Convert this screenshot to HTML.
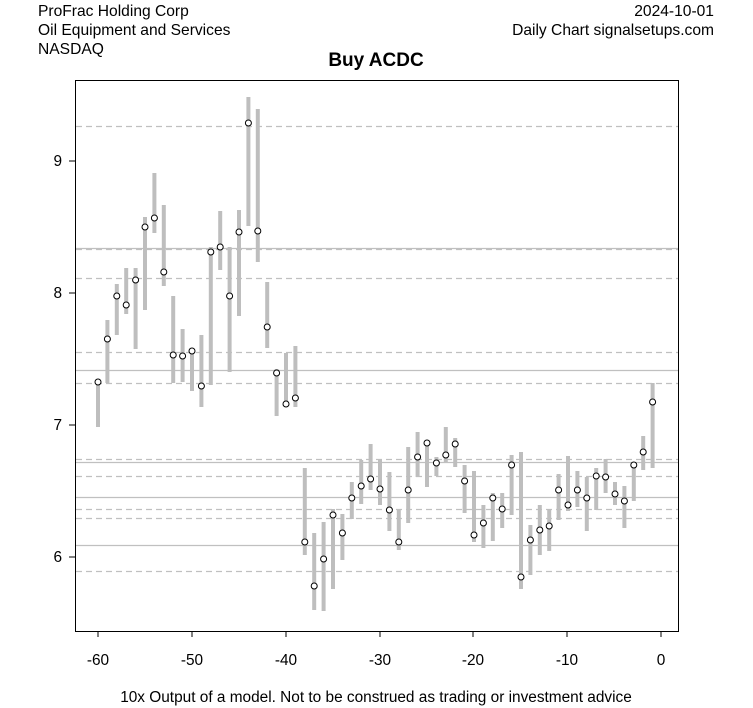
<!DOCTYPE html>
<html><head><meta charset="utf-8"><style>body{margin:0;background:#fff}svg{display:block}</style></head><body>
<svg width="753" height="708" xmlns="http://www.w3.org/2000/svg" font-family="Liberation Sans, Arial, sans-serif">
<rect width="753" height="708" fill="#fff"/>
<text x="38" y="16" font-size="15.6">ProFrac Holding Corp</text>
<text x="38" y="35" font-size="15.6">Oil Equipment and Services</text>
<text x="38" y="54" font-size="15.6">NASDAQ</text>
<text x="714" y="16" font-size="15.6" text-anchor="end">2024-10-01</text>
<text x="714" y="35" font-size="15.6" text-anchor="end">Daily Chart signalsetups.com</text>
<text x="376" y="66" font-size="19" font-weight="bold" text-anchor="middle">Buy ACDC</text>
<text x="376" y="702" font-size="15.4" text-anchor="middle">10x Output of a model. Not to be construed as trading or investment advice</text>
<g stroke="#c0c0c0" stroke-width="1.2" stroke-dasharray="6,4">
<line x1="76" x2="678" y1="126.5" y2="126.5"/><line x1="76" x2="678" y1="249.5" y2="249.5"/><line x1="76" x2="678" y1="278.5" y2="278.5"/><line x1="76" x2="678" y1="352.5" y2="352.5"/><line x1="76" x2="678" y1="383.5" y2="383.5"/><line x1="76" x2="678" y1="459.5" y2="459.5"/><line x1="76" x2="678" y1="476.5" y2="476.5"/><line x1="76" x2="678" y1="509.5" y2="509.5"/><line x1="76" x2="678" y1="518.5" y2="518.5"/><line x1="76" x2="678" y1="571.5" y2="571.5"/>
</g>
<g stroke="#c0c0c0" stroke-width="1.2">
<line x1="76" x2="678" y1="248.5" y2="248.5"/><line x1="76" x2="678" y1="370.5" y2="370.5"/><line x1="76" x2="678" y1="462.5" y2="462.5"/><line x1="76" x2="678" y1="497.5" y2="497.5"/><line x1="76" x2="678" y1="545.5" y2="545.5"/>
</g>
<g id="bars" stroke="#bebebe" stroke-width="4"></g>
<g id="pts" fill="none" stroke="#000" stroke-width="1"></g>
<rect x="75.5" y="80.5" width="603" height="551" fill="none" stroke="#000"/>
<g stroke="#000">
<line x1="75" x2="69" y1="161" y2="161"/><line x1="75" x2="69" y1="293" y2="293"/><line x1="75" x2="69" y1="425" y2="425"/><line x1="75" x2="69" y1="557" y2="557"/>
<line x1="98" x2="98" y1="631" y2="637"/><line x1="192" x2="192" y1="631" y2="637"/><line x1="286" x2="286" y1="631" y2="637"/><line x1="380" x2="380" y1="631" y2="637"/><line x1="473" x2="473" y1="631" y2="637"/><line x1="567" x2="567" y1="631" y2="637"/><line x1="661" x2="661" y1="631" y2="637"/>
</g>
<g font-size="15.4" text-anchor="end"><text x="62" y="166">9</text><text x="62" y="298">8</text><text x="62" y="430">7</text><text x="62" y="562">6</text></g>
<g font-size="15.4" text-anchor="middle"><text x="98" y="665">-60</text><text x="192" y="665">-50</text><text x="286" y="665">-40</text><text x="380" y="665">-30</text><text x="473" y="665">-20</text><text x="567" y="665">-10</text><text x="661" y="665">0</text></g>
<script>
var d=[[379,427,382],[320,383,339],[284,335,296],[268,314,305],[268,349,280],[217,310,227],[173,233,218],[205,286,272],[296,383,355],[329,382,356],[348,391,351],[335,407,386],[247,385,252],[211,270,247],[247,372,296],[210,316,232],[97,226,123],[109,262,231],[282,348,327],[369,416,373],[353,407,404],[346,407,398],[468,555,542],[533,610,586],[522,611,559],[509,589,515],[514,560,533],[482,519,498],[460,504,486],[444,490,479],[460,505,489],[472,531,510],[510,550,542],[447,523,490],[432,477,457],[440,487,443],[457,476,463],[427,462,455],[438,467,444],[465,513,481],[471,542,535],[505,548,523],[493,541,498],[493,528,509],[455,515,465],[452,589,577],[525,575,540],[505,555,530],[509,551,526],[474,520,490],[456,511,505],[471,507,490],[477,531,498],[468,510,476],[459,493,477],[482,505,494],[486,528,501],[465,501,465],[436,470,452],[383,468,402]];
var b=document.getElementById('bars'),p=document.getElementById('pts'),ns='http://www.w3.org/2000/svg';
d.forEach(function(r,i){var x=98+i*9.4;var l=document.createElementNS(ns,'line');l.setAttribute('x1',x);l.setAttribute('x2',x);l.setAttribute('y1',r[0]);l.setAttribute('y2',r[1]);b.appendChild(l);var c=document.createElementNS(ns,'circle');c.setAttribute('cx',x);c.setAttribute('cy',r[2]);c.setAttribute('r',3);c.setAttribute('fill','#fff');p.appendChild(c);});
</script>
</svg>
</body></html>
